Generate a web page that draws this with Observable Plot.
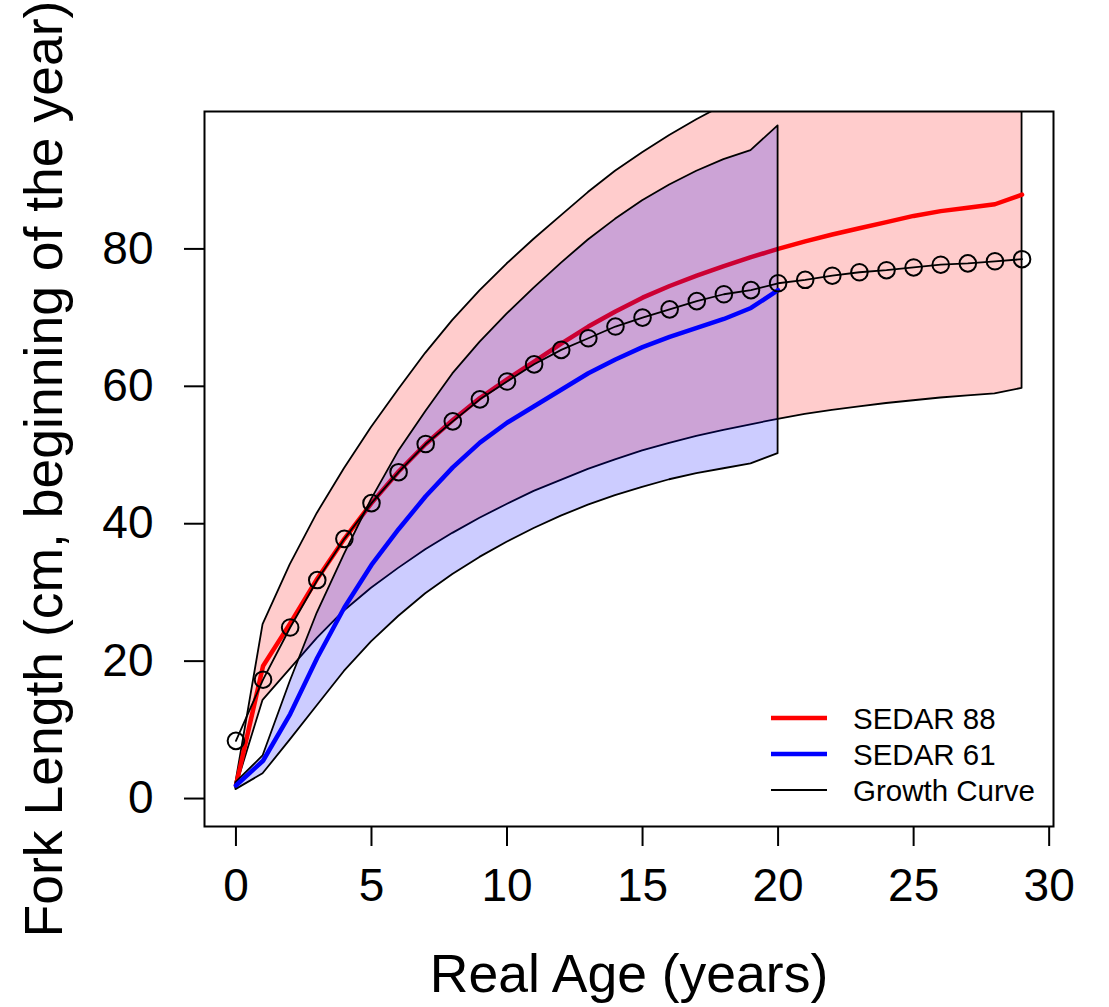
<!DOCTYPE html>
<html><head><meta charset="utf-8">
<script src="https://cdn.jsdelivr.net/npm/d3@7"></script>
<script src="https://cdn.jsdelivr.net/npm/@observablehq/plot@0.6"></script>
<style>
body{margin:0;background:#fff;}
#chart{width:1109px;height:1007px;}
</style>
</head><body><div id="chart"></div>
<script>
// ---- data ----
const ages88 = [0,1,2,3,4,5,6,7,8,9,10,11,12,13,14,15,16,17,18,19,20,21,22,23,24,25,26,27,28,29];
const sedar88 = [1.9,19.3,25.5,32.0,37.8,43.0,47.6,51.6,55.1,58.3,61.0,63.6,66.2,68.7,70.9,72.9,74.6,76.1,77.5,78.8,80.0,81.1,82.1,83.0,83.9,84.8,85.5,86.0,86.5,87.9];
const sedar88Lower = [1.5,14.3,18.8,23.3,27.3,30.6,33.5,36.2,38.6,40.8,42.8,44.7,46.3,47.9,49.3,50.6,51.7,52.7,53.6,54.4,55.2,55.9,56.5,57.0,57.5,57.9,58.3,58.6,58.9,59.7];
const sedar88Upper = [2.3,25.3,34.0,41.5,48.0,54.0,59.5,64.8,69.6,73.9,77.8,81.4,84.8,88.2,91.3,94.0,96.5,98.8,100.9,102.8,104.5,106.0,107.4,108.6,109.7,110.7,111.6,112.4,113.1,115.0];

const ages61 = [0,1,2,3,4,5,6,7,8,9,10,11,12,13,14,15,16,17,18,19,20];
const sedar61 = [1.9,5.5,12.3,20.5,27.8,34.0,39.2,44.0,48.2,51.8,54.7,57.1,59.5,61.9,63.9,65.7,67.2,68.5,69.8,71.4,74.0];
const sedar61Lower = [1.3,3.6,8.5,13.5,18.5,22.8,26.5,29.8,32.6,35.1,37.3,39.3,41.1,42.7,44.1,45.3,46.4,47.3,48.0,48.7,50.2];
const sedar61Upper = [2.3,6.2,17.0,27.0,35.5,43.5,50.5,56.3,61.8,66.4,70.5,74.3,77.9,81.3,84.3,87.0,89.3,91.3,93.0,94.3,97.9];

const growthAges = [0,1,2,3,4,5,6,7,8,9,10,11,12,13,14,15,16,17,18,19,20,21,22,23,24,25,26,27,28,29];
const growthLength = [8.4,17.3,24.9,31.8,37.8,43.0,47.5,51.6,54.9,58.1,60.7,63.2,65.3,67.0,68.7,70.0,71.2,72.4,73.4,74.0,75.0,75.5,76.1,76.6,76.9,77.3,77.7,77.9,78.2,78.5];

const xTicks = [0,5,10,15,20,25,30];
const yTicks = [0,20,40,60,80];
const xTitle = "Real Age (years)";
const yTitle = "Fork Length (cm, beginning of the year)";
const legendLabels = ["SEDAR 88","SEDAR 61","Growth Curve"];
const legendColors = ["#ff0000","#0000ff","#000000"];

// ---- tables ----
const d88 = ages88.map((a,i)=>({age:a, mean:sedar88[i], lower:sedar88Lower[i], upper:sedar88Upper[i]}));
const d61 = ages61.map((a,i)=>({age:a, mean:sedar61[i], lower:sedar61Lower[i], upper:sedar61Upper[i]}));
const dG = growthAges.map((a,i)=>({age:a, len:growthLength[i]}));

const font = "'Liberation Sans', Arial, sans-serif";

const plot = Plot.plot({
  width: 1109, height: 1007,
  marginLeft: 204, marginRight: 56, marginTop: 111, marginBottom: 181,
  style: {fontFamily: font, color: "black", background: "white", overflow: "visible"},
  x: {domain: [-1.16, 30.16]},
  y: {domain: [-4.07, 100]},
  marks: [
    Plot.areaY(d88, {x:"age", y1:"lower", y2:"upper", fill:"#ff0000", fillOpacity:0.2, stroke:"black", strokeWidth:1.8, clip:true}),
    Plot.lineY(d88, {x:"age", y:"mean", stroke:"#ff0000", strokeWidth:4.5, clip:true}),
    Plot.areaY(d61, {x:"age", y1:"lower", y2:"upper", fill:"#0000ff", fillOpacity:0.2, stroke:"black", strokeWidth:1.8, clip:true}),
    Plot.lineY(d61, {x:"age", y:"mean", stroke:"#0000ff", strokeWidth:4.5, clip:true}),
    Plot.lineY(dG, {x:"age", y:"len", stroke:"black", strokeWidth:1.8}),
    Plot.dot(dG, {x:"age", y:"len", r:8.3, stroke:"black", strokeWidth:2, fill:"none"}),
    Plot.frame({stroke:"black", strokeWidth:2}),
    Plot.axisX({ticks: xTicks, tickSize: 20, tickPadding: 22, strokeWidth: 2, fontSize: 46, label: null}),
    Plot.axisY({ticks: yTicks, tickSize: 20, tickPadding: 31, strokeWidth: 2, fontSize: 46, label: null}),
    Plot.text([xTitle], {frameAnchor: "bottom", dy: 165, lineAnchor: "bottom", textAnchor: "middle", fontSize: 53.5, fill: "black"}),
    Plot.text([yTitle], {frameAnchor: "left", dx: -181, rotate: -90, lineAnchor: "top", textAnchor: "middle", fontSize: 53.5, fill: "black"})
  ]
});
document.getElementById("chart").appendChild(plot);

// ---- legend (inside the plot, bottom-right, no box) ----
const svg = d3.select(plot);
const lg = svg.append("g").attr("font-family", font).attr("font-size", 29.5).attr("text-anchor", "start");
const lineW = [4.5, 4.5, 2];
legendLabels.forEach((lab, i) => {
  const yy = 718 + i * 36;
  lg.append("line").attr("x1", 771).attr("x2", 827).attr("y1", yy).attr("y2", yy)
    .attr("stroke", legendColors[i]).attr("stroke-width", lineW[i]);
  lg.append("text").attr("x", 853).attr("y", yy).attr("dy", "0.36em")
    .attr("text-anchor", "start").attr("fill", "black").text(lab);
});
</script>
</body></html>
